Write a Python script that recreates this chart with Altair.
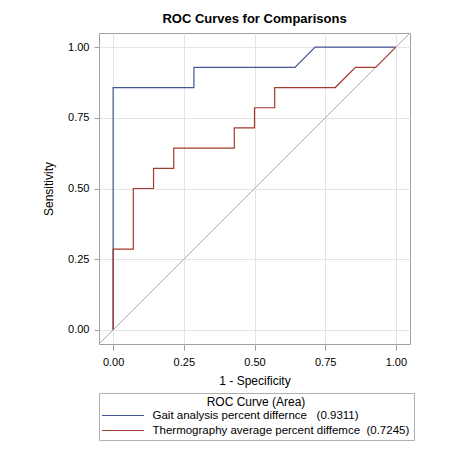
import altair as alt
import pandas as pd

# ROC curve points (1 - specificity, sensitivity)
gait_fpr = [0.0, 0.0, 0.2857, 0.2857, 0.6429, 0.7143, 1.0]
gait_tpr = [0.0, 0.8571, 0.8571, 0.9286, 0.9286, 1.0, 1.0]

thermo_fpr = [0.0, 0.0, 0.0714, 0.0714, 0.1429, 0.1429, 0.2143, 0.2143, 0.4286,
              0.4286, 0.5, 0.5, 0.5714, 0.5714, 0.7857, 0.8571, 0.9286, 1.0]
thermo_tpr = [0.0, 0.2857, 0.2857, 0.5, 0.5, 0.5714, 0.5714, 0.6429, 0.6429,
              0.7143, 0.7143, 0.7857, 0.7857, 0.8571, 0.8571, 0.9286, 0.9286, 1.0]

series_names = [
    "Gait analysis percent differnce\u00a0\u00a0 (0.9311)",
    "Thermography average percent diffemce\u00a0 (0.7245)",
]
series_colors = ["#445694", "#a23a2e"]

diag_vals = [-0.05, 1.05]
tick_vals = [0.0, 0.25, 0.5, 0.75, 1.0]
domain = [-0.05, 1.05]

rows = []
for i, (x, y) in enumerate(zip(gait_fpr, gait_tpr)):
    rows.append({"fpr": x, "tpr": y, "curve": series_names[0], "ord": i})
for i, (x, y) in enumerate(zip(thermo_fpr, thermo_tpr)):
    rows.append({"fpr": x, "tpr": y, "curve": series_names[1], "ord": i})
df = pd.DataFrame(rows)
diag = pd.DataFrame({"fpr": diag_vals, "tpr": diag_vals})

FONT = "Liberation Sans"

xscale = alt.Scale(domain=domain, nice=False, zero=False)
yscale = alt.Scale(domain=domain, nice=False, zero=False)

xaxis = alt.Axis(values=tick_vals, format=".2f", title="1 - Specificity",
                 labelFontSize=11, titleFontSize=12, titleFontWeight="normal",
                 tickSize=6, labelPadding=6, titlePadding=8)
yaxis = alt.Axis(values=tick_vals, format=".2f", title="Sensitivity",
                 labelFontSize=11, titleFontSize=12, titleFontWeight="normal",
                 tickSize=5, labelPadding=5, titlePadding=12)

ref = alt.Chart(diag).mark_line(color="#aaaaaa", strokeWidth=1).encode(
    x=alt.X("fpr:Q", scale=xscale, axis=xaxis),
    y=alt.Y("tpr:Q", scale=yscale, axis=yaxis),
)

curves = alt.Chart(df).mark_line(strokeWidth=1.2, interpolate="linear").encode(
    x=alt.X("fpr:Q", scale=xscale, axis=xaxis),
    y=alt.Y("tpr:Q", scale=yscale, axis=yaxis),
    color=alt.Color(
        "curve:N",
        scale=alt.Scale(domain=series_names, range=series_colors),
        legend=alt.Legend(
            title="ROC Curve (Area)",
            orient="none",
            legendX=0,
            legendY=360,
            titleAnchor="middle",
            titleFontSize=12,
            titleFontWeight="normal",
            titleFont=FONT,
            titleColor="#000000",
            titlePadding=-3,
            labelFontSize=11.5,
            labelFont=FONT,
            labelColor="#000000",
            labelLimit=400,
            symbolType="M-2.47,0H2.47",
            symbolSize=289,
            symbolStrokeWidth=1.2,
            symbolOffset=10.5,
            labelOffset=20,
            rowPadding=0,
            padding=4,
            strokeColor="#b0b0b0",
        ),
    ),
    order="ord:Q",
)

chart = alt.layer(ref, curves).properties(
    width=311,
    height=311,
    title=alt.TitleParams("ROC Curves for Comparisons", fontSize=13, fontWeight="bold",
                          font=FONT, color="#000000", anchor="middle", offset=5),
    autosize=alt.AutoSizeParams(type="none"),
    padding={"left": 91, "top": 25, "right": 34, "bottom": 100},
).configure_view(
    stroke="#a0a0a0", strokeWidth=1
).configure_axis(
    labelFont=FONT, titleFont=FONT, labelColor="#000000", titleColor="#000000",
    gridColor="#e4e4e4", tickColor="#a0a0a0", domain=False,
)

chart.save("out.html", embed_options={"renderer": "svg", "actions": False})
